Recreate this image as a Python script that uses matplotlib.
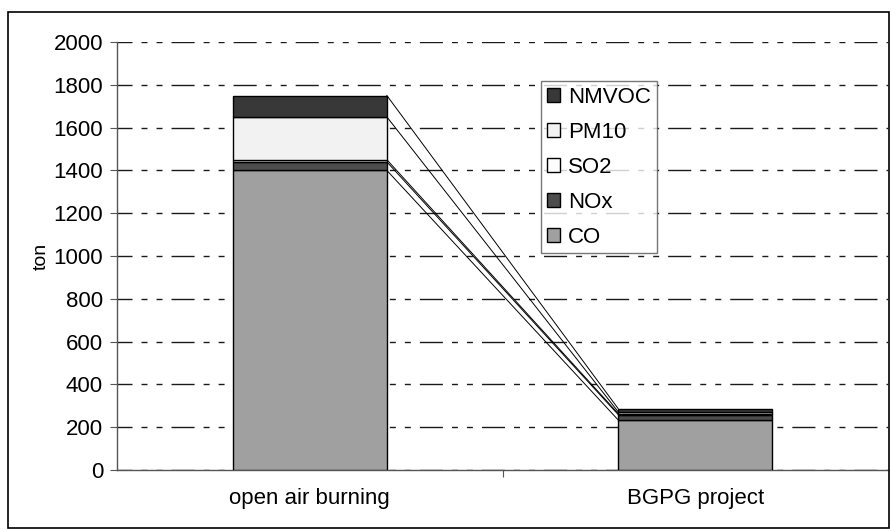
import matplotlib
matplotlib.use('Agg')
import numpy as np
import matplotlib.pyplot as plt
from matplotlib.patches import Rectangle, Patch

plt.rcParams['font.family'] = ['Liberation Sans', 'DejaVu Sans']

categories = ['open air burning', 'BGPG project']
pollutants = ['CO', 'NOx', 'SO2', 'PM10', 'NMVOC']
values = {
    'CO':    [1400, 234],
    'NOx':   [40, 25],
    'SO2':   [10, 5],
    'PM10':  [200, 8],
    'NMVOC': [100, 15],
}
colors = {'CO': '#a0a0a0', 'NOx': '#4d4d4d', 'SO2': '#fdfdfd',
          'PM10': '#f2f2f2', 'NMVOC': '#383838'}

PX = 0.72  # points per pixel at dpi 100
fig = plt.figure(figsize=(8.9, 5.3), dpi=100)
ax = fig.add_axes([117/890, 60/530, 771/890, 428/530])

x = np.arange(len(categories))
W = 0.4
bottom = np.zeros(len(categories))
for p in pollutants:
    v = np.array(values[p], dtype=float)
    ax.bar(x, v, W, bottom=bottom, color=colors[p], edgecolor='black',
           linewidth=1.0, zorder=3, label=p)
    top = bottom + v
    # series lines joining the stacks, Excel style
    ax.plot([x[0] + W/2, x[1] - W/2], [top[0], top[1]], color='black',
            lw=0.7, zorder=2)
    bottom = top

ax.set_xlim(-0.5, 1.5)
ax.set_ylim(0, 2000)
ax.set_yticks(np.arange(0, 2001, 200))
# lw=1 so the dash pattern (points) is the same scaled or not
ax.yaxis.grid(True, color='#1a1a1a', lw=1.0,
              linestyle=(5.8, (16.6, 6.5, 4.3, 6.5, 4.3, 6.5)), zorder=0)
ax.set_axisbelow(True)

for s in ['top', 'right']:
    ax.spines[s].set_visible(False)
for s in ['left', 'bottom']:
    ax.spines[s].set_color('#555555')
    ax.spines[s].set_linewidth(1.0)

ax.tick_params(axis='y', direction='out', length=7*PX, width=0.8,
               color='#555555', labelsize=16, pad=7*PX)
ax.set_xticks(x)
ax.set_xticklabels(categories, fontsize=16)
ax.tick_params(axis='x', length=0, pad=18*PX)
ax.set_xticks([0.5], minor=True)
ax.tick_params(axis='x', which='minor', direction='out', length=7*PX,
               width=0.8, color='#555555')
ax.set_ylabel('ton', fontsize=14, labelpad=4*PX)

handles = [Patch(facecolor=colors[p], edgecolor='black', lw=1.0)
           for p in pollutants[::-1]]
leg = fig.legend(handles, pollutants[::-1], loc='upper left',
                 bbox_to_anchor=(541/890, 1 - 81/530), fontsize=16,
                 frameon=True, fancybox=False, handlelength=0.6,
                 handleheight=0.6, handletextpad=0.38, labelspacing=0.63,
                 borderpad=0.25, borderaxespad=0)
leg.get_frame().set_edgecolor('#555555')
leg.get_frame().set_linewidth(1.0)

fig.patches.append(Rectangle((8/890, 2/530), 881/890, 516/530,
                             transform=fig.transFigure, fill=False,
                             edgecolor='black', lw=1.2))

fig.savefig('out.png', dpi=100)
